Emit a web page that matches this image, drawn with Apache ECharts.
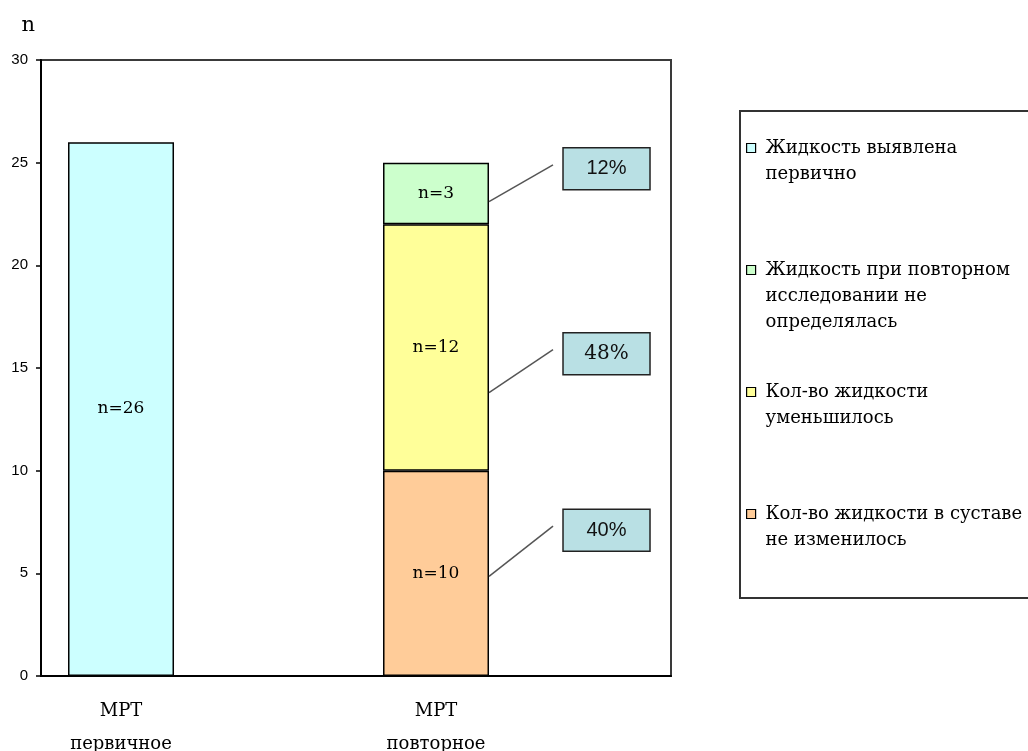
<!DOCTYPE html>
<html>
<head>
<meta charset="utf-8">
<script src="https://cdn.jsdelivr.net/npm/echarts@6/dist/echarts.min.js"></script>
<style>
  html, body { margin: 0; padding: 0; background: #fff; }
  #chart { width: 1028px; height: 751px; }
</style>
</head>
<body>
<div id="chart"></div>
<script>
// Categories on the x axis (two MRI examinations)
const categories = ['МРТ\nпервичное', 'МРТ\nповторное'];

// Series names as shown in the legend
const nameFirst = 'Жидкость выявлена\nпервично';
const nameGone = 'Жидкость при повторном\nисследовании не\nопределялась';
const nameLess = 'Кол-во жидкости\nуменьшилось';
const nameSame = 'Кол-во жидкости в суставе\nне изменилось';

// Counts per category (null = no bar in that category)
const firstValues = [26, null];
const sameValues = [null, 10];
const lessValues = [null, 12];
const goneValues = [null, 3];

// Value axis
const yMin = 0;
const yMax = 30;
const yStep = 5;

const serif = 'DejaVu Serif';
const sans = 'Liberation Sans';

const BAR_W = 106;

// Callouts for the stacked bar: where the leader leaves the bar and where the box sits (axis units)
const callouts = [
  { series: 3, anchor: 23.1, box: 24.7, font: sans },
  { series: 2, anchor: 13.8, box: 15.7, font: serif },
  { series: 1, anchor: 4.85, box: 7.1, font: sans }
];

// Blank lines before / after each legend name so the marker sits beside its first line
const legendLines = {};
legendLines[nameFirst] = [1, 0];
legendLines[nameGone] = [2, 0];
legendLines[nameLess] = [1, 0];
legendLines[nameSame] = [2, 1];

function barSeries(name, data, color) {
  return {
    name: name,
    type: 'bar',
    stack: 'count',
    data: data,
    barWidth: BAR_W,
    barGap: '46.2%',
    itemStyle: { color: color, borderColor: '#000', borderWidth: 1.5 },
    label: {
      show: true,
      position: 'inside',
      formatter: 'n={c}',
      fontFamily: serif,
      fontSize: 17,
      color: '#000',
      textBorderWidth: 0
    },
    emphasis: { disabled: true }
  };
}

const chart = echarts.init(document.getElementById('chart'), null, { renderer: 'canvas' });

const option = {
  animation: false,
  backgroundColor: '#fff',
  grid: {
    left: 41, right: 357, top: 60, bottom: 75,
    show: true, borderColor: '#3a3a3a', borderWidth: 2, backgroundColor: '#fff',
    outerBoundsMode: 'none'
  },
  xAxis: {
    type: 'category',
    data: categories,
    axisLine: { lineStyle: { color: '#000', width: 2 } },
    axisTick: { show: false },
    axisLabel: {
      fontFamily: serif, fontSize: 18, lineHeight: 33, color: '#000',
      margin: 19, padding: [0, 155, 0, 0], interval: 0
    }
  },
  yAxis: {
    type: 'value',
    min: yMin, max: yMax, interval: yStep,
    name: 'n',
    nameLocation: 'end',
    nameGap: 34,
    nameTextStyle: {
      fontFamily: serif, fontSize: 21, color: '#000',
      align: 'right', verticalAlign: 'middle', padding: [0, 6, 0, 0]
    },
    axisLine: { show: true, lineStyle: { color: '#000', width: 2 } },
    axisTick: { show: true, length: 5, lineStyle: { color: '#000', width: 1.5 } },
    axisLabel: { fontFamily: sans, fontSize: 15, color: '#000', margin: 13 },
    splitLine: { show: false }
  },
  legend: {
    orient: 'vertical',
    left: 746, top: 109,
    padding: 0,
    itemGap: 18,
    itemWidth: 9, itemHeight: 9,
    icon: 'rect',
    selectedMode: false,
    itemStyle: { borderColor: '#000', borderWidth: 1.2 },
    formatter: function (name) {
      const pad = legendLines[name];
      return '\n'.repeat(pad[0]) + name + '\n'.repeat(pad[1]);
    },
    textStyle: {
      fontFamily: serif, fontSize: 18, lineHeight: 26, color: '#000',
      padding: [0, 0, 0, 5],
      backgroundColor: 'rgba(255,255,255,0)'
    },
    data: [nameFirst, nameGone, nameLess, nameSame]
  },
  series: [
    barSeries(nameFirst, firstValues, '#CCFFFF'),
    barSeries(nameSame, sameValues, '#FFCC99'),
    barSeries(nameLess, lessValues, '#FFFF99'),
    barSeries(nameGone, goneValues, '#CCFFCC'),
    // empty neighbour slot that keeps the bars left of the category centre
    { name: 'slot', type: 'bar', stack: 'slot', data: [null, null], barWidth: BAR_W, barGap: '46.2%' }
  ]
};

chart.setOption(option);

// Legend frame and percentage callouts, placed with the chart's own axes and bar layout
const stackedSeries = [sameValues, lessValues, goneValues];
const total = stackedSeries.reduce((s, arr) => s + (arr[1] || 0), 0);

const graphics = [{
  type: 'rect',
  shape: { x: 740, y: 111, width: 300, height: 487 },
  style: { fill: 'none', stroke: '#333', lineWidth: 2 },
  z: 1
}];

callouts.forEach(c => {
  const data = chart.getModel().getSeriesByIndex(c.series).getData();
  const layout = data.getItemLayout(1);
  const value = option.series[c.series].data[1];
  const right = Math.max(layout.x, layout.x + layout.width);
  const yAnchor = chart.convertToPixel({ yAxisIndex: 0 }, c.anchor);
  const yBox = chart.convertToPixel({ yAxisIndex: 0 }, c.box);
  const boxH = 42, boxW = 87;
  graphics.push({
    type: 'line',
    shape: { x1: right, y1: yAnchor, x2: right + 64, y2: yBox - 4 },
    style: { stroke: '#555', lineWidth: 1.5 },
    z: 10
  });
  graphics.push({
    type: 'rect',
    shape: { x: right + 74, y: yBox - boxH / 2, width: boxW, height: boxH },
    style: { fill: '#B9E0E4', stroke: '#222', lineWidth: 1.5 },
    z: 10
  });
  graphics.push({
    type: 'text',
    x: right + 74 + boxW / 2,
    y: yBox,
    style: {
      text: Math.round(value / total * 100) + '%',
      fontFamily: c.font, fontSize: 20, fill: '#111',
      align: 'center', verticalAlign: 'middle'
    },
    z: 11
  });
});

chart.setOption({ graphic: graphics });
</script>
</body>
</html>
